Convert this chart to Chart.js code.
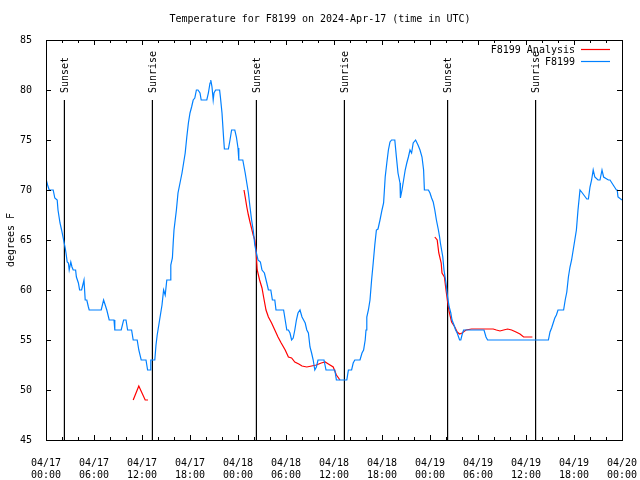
<!DOCTYPE html>
<html lang="en">
<head>
    <meta charset="UTF-8">
    <title>Temperature for F8199</title>
    <style>
        html, body{
            margin: 0;
            padding: 0;
            background-color: #fff;
        }
        #diagramm{
            display: block;
        }
    </style>
</head>
<body>
    <canvas id="diagramm" width="640" height="480"></canvas>
    <script src="https://cdn.jsdelivr.net/npm/chart.js"></script>
    <script>
        // hours since 04/17 00:00 UTC, degrees F
        const f8199Stunden = [0, 0.2, 0.4, 0.9, 1.1, 1.4, 1.5, 1.75, 1.95, 2.2, 2.4, 2.5, 2.65, 2.8, 2.9, 3.1, 3.25, 3.4, 3.7, 3.8,
            4.05, 4.2, 4.45, 4.6, 4.75, 4.9, 5.1, 5.3, 5.4, 6.9, 7.2, 7.4, 7.6, 7.9, 8.5, 8.6, 9.4, 9.7, 10, 10.2,
            10.7, 10.9, 11.4, 11.6, 11.9, 12.5, 12.7, 13, 13.1, 13.6, 13.75, 13.9, 14.2, 14.5, 14.7, 14.9, 15.1, 15.5, 15.6, 15.8,
            15.9, 16.0, 16.3, 16.5, 16.75, 17.0, 17.2, 17.4, 17.6, 17.8, 18.0, 18.2, 18.4, 18.6, 18.8, 19.0, 19.25, 19.4, 20.1, 20.3,
            20.5, 20.6, 20.75, 20.9, 21.0, 21.2, 21.7, 21.8, 22.0, 22.2, 22.3, 22.8, 23.0, 23.2, 23.6, 23.8, 24.0, 24.1, 24.6, 24.9,
            25.1, 25.3, 25.5, 25.7, 25.9, 26.1, 26.3, 26.5, 26.8, 27.0, 27.3, 27.6, 27.8, 28.1, 28.3, 28.6, 28.75, 29.7, 29.9, 30.1,
            30.3, 30.5, 30.7, 30.9, 31.1, 31.3, 31.5, 31.75, 32.0, 32.2, 32.4, 32.6, 32.8, 33.0, 33.2, 33.4, 33.6, 33.8, 34.0, 34.75,
            35.0, 36.1, 36.3, 37.6, 37.8, 38.2, 38.4, 38.6, 39.25, 39.5, 39.7, 39.9, 40.0, 40.1, 40.3, 40.5, 40.7, 40.9, 41.1, 41.3,
            41.5, 41.75, 42.0, 42.2, 42.4, 42.6, 42.8, 43.0, 43.2, 43.6, 43.8, 44.0, 44.25, 44.3, 44.5, 44.7, 44.9, 45.1, 45.3, 45.5,
            45.7, 45.9, 46.2, 46.5, 46.75, 47.0, 47.2, 47.3, 47.8, 48.0, 48.2, 48.4, 48.6, 48.8, 49.05, 49.2, 49.3, 49.6, 49.75, 50.0,
            50.2, 50.4, 50.6, 50.75, 51.0, 51.2, 51.4, 51.7, 51.85, 52.0, 52.2, 54.75, 55.0, 55.2, 62.8, 63.0, 63.2, 63.4, 63.6, 63.8,
            64.0, 64.7, 64.9, 65.1, 65.3, 65.5, 65.7, 65.9, 66.1, 66.3, 66.5, 66.75, 66.95, 67.6, 67.8, 68.0, 68.2, 68.4, 68.6, 69.0,
            69.25, 69.5, 69.7, 70.3, 70.5, 71.3, 71.4, 71.5, 72.0];
        const f8199Werte = [71.1, 70.5, 70, 70, 69.2, 69, 68, 66.7, 66, 65, 64.2, 63.7, 62.8, 62.7, 62, 62.8, 62.3, 62, 62, 61.3,
            60.7, 60, 60, 60.5, 61, 59, 59, 58.3, 58, 58, 59, 58.5, 58, 57, 57, 56, 56, 57, 57, 56,
            56, 55, 55, 54, 53, 53, 52, 52, 53, 53, 54.5, 55.5, 57, 58.5, 60, 59.5, 61, 61, 62.5, 63.2,
            64.7, 66, 68, 69.7, 70.7, 71.7, 72.7, 73.7, 75.3, 76.7, 77.7, 78.3, 79, 79.2, 80, 80, 79.7, 79, 79, 79.7,
            80.7, 81, 80.3, 79, 79.7, 80, 80, 79.3, 77.7, 75.2, 74.1, 74.1, 75, 76, 76, 75.3, 74.2, 73, 73, 71.7,
            70.7, 69.7, 68.3, 67, 66, 64.5, 63.7, 63, 62.8, 62, 61.7, 60.7, 60, 60, 59, 59, 58, 58, 57, 56,
            56, 55.7, 55, 55.2, 56, 57, 57.7, 58, 57.3, 57, 56.7, 56, 55.7, 54.3, 53.7, 53, 52, 52.3, 53, 53,
            52, 52, 51, 51, 52, 52, 52.7, 53, 53, 53.7, 54, 55, 56, 57.3, 58, 59, 61, 62.7, 64.5, 66,
            66.1, 67, 68, 68.7, 71.3, 72.7, 74, 74.8, 75, 75, 73.3, 71.7, 70.7, 69.2, 70, 71, 72, 72.7, 73.3, 74,
            73.7, 74.7, 75, 74.5, 74, 73.3, 72, 70, 70, 69.7, 69.2, 68.8, 68, 67, 66, 65.3, 64.7, 63.3, 62, 60.7,
            59.3, 58.3, 57.7, 57, 56.5, 56, 55.7, 55, 55, 55.5, 56, 56, 55.3, 55, 55, 55.8, 56.2, 56.7, 57.2, 57.5,
            58, 58, 59, 59.8, 61.3, 62.3, 63, 64, 65, 66, 68, 70, 69.8, 69.1, 69.1, 70.3, 71, 72, 71.3, 71, 71,
            72, 71.3, 71, 71, 70, 70, 69.3, 69, 69];

        // null = break in the analysis line
        const analyseStunden = [10.9, 11.6, 12.4, 12.75, 13.0,
            24.75, 24.9, 25.1, 25.3, 25.5, 25.9, 26.1, 26.25, 26.4, 26.7, 27.0, 27.2, 27.5, 27.8, 28.2,
            28.6, 29.0, 29.4, 29.9, 30.3, 30.7, 31.1, 31.6, 32.0, 32.6, 33.2, 33.8, 34.4, 34.9, 35.3, 35.9,
            36.3, 36.75, 40.0,
            48.6, 48.9, 49.1, 49.4, 49.5, 49.8, 50.0, 50.2, 50.4, 50.7, 51.1, 51.4, 51.7, 52.0, 52.5, 53.2,
            55.9, 56.3, 56.75, 57.2, 57.7, 58.2, 58.75, 59.25, 59.7, 60.3, 60.8];
        const analyseWerte = [49, 50.4, 49, 49, null,
            70, 69.3, 68.3, 67.5, 66.8, 65.5, 65, 64, 62, 61, 60.2, 59.3, 58, 57.3, 56.7,
            56, 55.3, 54.7, 54, 53.3, 53.2, 52.8, 52.6, 52.4, 52.3, 52.4, 52.5, 52.7, 52.8, 52.6, 52.3,
            51.5, 51, null,
            65.3, 65, 63.7, 62.7, 61.7, 61.3, 60, 58.8, 57.8, 56.8, 56.3, 55.8, 55.6, 55.7, 56, 56.1,
            56.1, 56, 55.9, 56, 56.1, 56, 55.8, 55.6, 55.3, 55.3, 55.3];

        const ereignisse = ['Sunset', 'Sunrise', 'Sunset', 'Sunrise', 'Sunset', 'Sunrise'];
        const ereignisStunden = [2.3, 13.3, 26.3, 37.3, 50.2, 61.2];
        const linienOben = 79;

        const yTicks = [45, 50, 55, 60, 65, 70, 75, 80, 85];
        const tage = ['04/17', '04/18', '04/19', '04/20'];

        const schrift = '10px "DejaVu Sans Mono", monospace';

        function punkte(xs, ys){
            return xs.map((x, i) => ({x: x, y: ys[i]}));
        }

        const datensaetze = [
            {
                label: 'F8199 Analysis',
                data: punkte(analyseStunden, analyseWerte),
                borderColor: '#ff0000',
                borderWidth: 1.2,
                pointRadius: 0,
                spanGaps: false,
                order: 2
            },
            {
                label: 'F8199',
                data: punkte(f8199Stunden, f8199Werte),
                borderColor: '#0080ff',
                borderWidth: 1.2,
                pointRadius: 0,
                order: 1
            }
        ];
        ereignisStunden.forEach((h, i) => {
            datensaetze.push({
                label: ereignisse[i],
                data: [{x: h, y: 45}, {x: h, y: linienOben}],
                borderColor: '#000',
                borderWidth: 1.2,
                pointRadius: 0,
                order: 5
            });
        });

        const rahmen = {
            id: 'rahmen',
            afterDraw(chart){
                const ctx = chart.ctx;
                const a = chart.chartArea;
                const sx = chart.scales.x;
                const sy = chart.scales.y;
                ctx.save();
                ctx.strokeStyle = '#000';
                ctx.lineWidth = 1;
                ctx.strokeRect(a.left + 0.5, a.top + 0.5, a.right - a.left, a.bottom - a.top);

                // ticks pointing inward, mirrored
                ctx.beginPath();
                yTicks.forEach(v => {
                    const y = Math.round(sy.getPixelForValue(v)) + 0.5;
                    ctx.moveTo(a.left, y); ctx.lineTo(a.left + 5, y);
                    ctx.moveTo(a.right, y); ctx.lineTo(a.right - 5, y);
                });
                for (let h = 0; h <= 72; h += 2) {
                    const x = Math.round(sx.getPixelForValue(h)) + 0.5;
                    const l = (h % 6 === 0) ? 5 : 3;
                    ctx.moveTo(x, a.bottom); ctx.lineTo(x, a.bottom - l);
                    ctx.moveTo(x, a.top); ctx.lineTo(x, a.top + l);
                }
                ctx.stroke();

                ctx.fillStyle = '#000';
                ctx.font = schrift;

                // title
                ctx.textAlign = 'center';
                ctx.textBaseline = 'middle';
                ctx.fillText('Temperature for F8199 on 2024-Apr-17 (time in UTC)', 320, 19);

                // y axis label
                ctx.save();
                ctx.translate(11, 240);
                ctx.rotate(-Math.PI / 2);
                ctx.fillText('degrees F', 0, 0);
                ctx.restore();

                // sunset / sunrise labels
                ereignisStunden.forEach((h, i) => {
                    const x = sx.getPixelForValue(h);
                    ctx.save();
                    ctx.translate(x + 1, sy.getPixelForValue(linienOben) - 7);
                    ctx.rotate(-Math.PI / 2);
                    ctx.textAlign = 'left';
                    ctx.textBaseline = 'middle';
                    ctx.fillText(ereignisse[i], 0, 0);
                    ctx.restore();
                });

                // legend
                ctx.textAlign = 'right';
                ctx.textBaseline = 'middle';
                [datensaetze[0], datensaetze[1]].forEach((ds, i) => {
                    const y = 50 + i * 12;
                    ctx.fillText(ds.label, 575, y);
                    ctx.strokeStyle = ds.borderColor;
                    ctx.lineWidth = 1.2;
                    ctx.beginPath();
                    ctx.moveTo(581, y - 0.5);
                    ctx.lineTo(610, y - 0.5);
                    ctx.stroke();
                });
                ctx.restore();
            }
        };

        new Chart(document.getElementById('diagramm').getContext('2d'), {
            type: 'line',
            data: {datasets: datensaetze},
            options: {
                responsive: false,
                animation: false,
                devicePixelRatio: 1,
                layout: {padding: {top: 40, right: 18, left: 0, bottom: 0}},
                plugins: {
                    legend: {display: false},
                    tooltip: {enabled: false}
                },
                elements: {line: {tension: 0}},
                scales: {
                    x: {
                        type: 'linear',
                        min: 0,
                        max: 72,
                        grid: {display: false},
                        border: {display: false},
                        afterFit: s => {
                            s.height = 40;
                            s.paddingLeft = 0;
                            s.paddingRight = 0;
                        },
                        ticks: {
                            stepSize: 6,
                            padding: 9,
                            maxRotation: 0,
                            autoSkip: false,
                            color: '#000',
                            font: {family: '"DejaVu Sans Mono", monospace', size: 10, lineHeight: 1.2},
                            callback: v => {
                                const std = v % 24;
                                return [tage[Math.floor(v / 24)], (std < 10 ? '0' : '') + std + ':00'];
                            }
                        }
                    },
                    y: {
                        min: 45,
                        max: 85,
                        grid: {display: false},
                        border: {display: false},
                        afterFit: s => {
                            s.width = 46;
                            s.paddingTop = 0;
                            s.paddingBottom = 0;
                        },
                        ticks: {
                            stepSize: 5,
                            padding: 6,
                            color: '#000',
                            font: {family: '"DejaVu Sans Mono", monospace', size: 10}
                        }
                    }
                }
            },
            plugins: [rahmen]
        });
    </script>
</body>
</html>
